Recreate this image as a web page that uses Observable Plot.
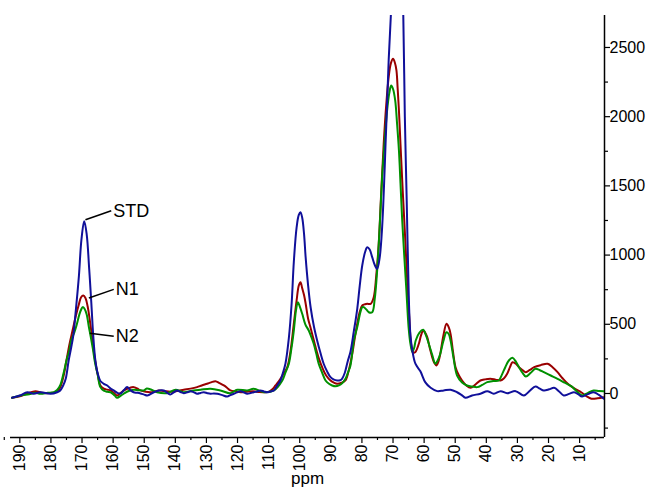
<!DOCTYPE html>
<html>
<head>
<meta charset="utf-8">
<script src="https://cdn.jsdelivr.net/npm/d3@7"></script>
<script src="https://cdn.jsdelivr.net/npm/@observablehq/plot@0.6"></script>
<style>
  html, body { margin: 0; padding: 0; background: #fff; }
</style>
</head>
<body>
<div id="chart"></div>
<script>
// ppm, intensity
const STD = [
  [192.5,-31],[190,-15],[187.6,9],[185.5,-2],[183.4,9],[180.1,-2],[178,9],[177,22],[176,60],[175.2,110],
  [174.3,238],[173.5,330],[172.8,420],[172,600],[171,850],[170.2,1110],[169.3,1245],[168.5,1150],[167.7,900],
  [167,650],[166.4,420],[165.7,238],[164.9,140],[164.1,90],[163,70],[161.9,58],[160.8,35],[159.8,22],[158.7,5],
  [157.6,0],[156.5,25],[155.5,46],[154.5,25],[153.4,9],[152.3,5],[151.2,0],[150,-8],[149,-14],[146.9,9],
  [145.3,22],[143.7,22],[142.6,5],[141.6,-7],[140.5,8],[139.4,22],[138.3,10],[137.3,2],[136.2,8],[135.1,17],
  [134,8],[133,-2],[131.9,4],[130.8,9],[129.7,2],[128.7,-2],[127.6,0],[126.5,-2],[124.9,-12],[123.3,-22],
  [122.3,-12],[121.2,-2],[120.1,8],[119,17],[118,8],[116.9,-2],[115.8,3],[114.8,9],[113.7,15],[112.6,22],
  [111.5,15],[110.5,9],[109.4,15],[108.3,22],[107.2,60],[106.2,94],[105.4,150],[104.6,215],[103.5,400],
  [102.6,650],[101.9,950],[101,1200],[100.3,1290],[99.75,1310],[99.2,1270],[98.6,1150],[98.1,985],[97.3,780],
  [96.5,623],[95.4,480],[94.4,383],[93.3,290],[92.3,215],[91.2,160],[90.1,118],[89,100],[88,94],[87,96],
  [86.4,106],[85.5,150],[84.6,230],[83.7,300],[82.6,450],[81.5,612],[80.7,780],[79.9,925],[79,1020],
  [78.3,1057],[77.5,1040],[76.7,985],[75.9,930],[75.1,901],[74.3,980],[73.5,1202],[72.9,1500],[72.4,1804],
  [71.9,2100],[71.4,2406],[70.7,2731],[70,3100],[69,3500],[68.5,3550],[68,3450],[67.3,3150],[66.7,2731],
  [66.2,2000],[65.6,1395],[64.9,672],[64.4,420],[63.8,311],[62.8,215],[61.2,160],[59.6,80],[57.9,41],
  [55.8,17],[53.7,22],[51.5,27],[49.4,9],[48,-10],[46.7,-31],[44.6,-14],[41.9,-2],[39.7,17],[37.6,-2],
  [35.4,17],[33.3,2],[30.6,17],[27.9,-14],[26,20],[24.2,51],[22.8,35],[21.5,22],[19.8,30],[18.2,41],
  [16.6,15],[15.1,-14],[13.4,-3],[11.8,9],[10.5,-5],[9.2,-22],[7.3,-5],[5.5,9],[3.8,-10],[2.2,-38]
];
const N1 = [
  [192.5,-31],[190,-20],[187.6,0],[185,17],[183,5],[181.2,2],[179.5,5],[178,15],[177,45],[176,120],[175,240],
  [174,360],[173,460],[172,560],[171,645],[170.3,695],[169.6,708],[168.9,690],[168.2,630],[167.5,530],
  [166.8,410],[166.2,300],[165.5,200],[164.8,120],[164.1,58],[163,35],[161.9,28],[160.8,22],[159.8,5],
  [158.7,-14],[157.5,5],[156.5,22],[155.5,34],[154.5,42],[153.4,46],[152.3,36],[151.2,22],[149.5,12],[148,9],
  [146.5,15],[145.3,22],[143.7,18],[141.6,12],[139.4,18],[137.3,27],[135.1,35],[133,46],[131.5,58],[129.8,70],
  [128.5,80],[127.1,89],[125.8,75],[124.4,58],[123.3,40],[122.3,22],[120.5,14],[119,9],[117,13],[115,16],
  [113,10],[111.5,9],[110,12],[108.8,30],[107.8,58],[107,80],[106.2,106],[105,150],[104,190],[103,300],
  [101.9,504],[101,672],[100.3,780],[99.75,804],[99.2,760],[98.6,710],[98.1,650],[97.3,540],[96.7,490],
  [96,430],[94.9,335],[93.8,250],[92.8,190],[91.5,130],[90.1,94],[89,78],[88,70],[86.5,78],[85.3,94],
  [84.2,170],[83.1,287],[82.3,400],[81.5,504],[80.7,590],[79.9,636],[79,645],[78.3,648],[77.2,648],
  [76.2,696],[75.4,850],[74.6,1082],[73.8,1450],[73,1804],[72.2,2080],[71.4,2285],[70.7,2385],[70,2418],
  [69.4,2390],[68.9,2334],[68.5,2200],[68.1,2045],[67.6,1800],[67.1,1563],[66.5,1300],[66,1082],[65.4,800],
  [64.8,560],[64.2,360],[63.5,295],[62.8,300],[61.7,359],[61,420],[60.3,455],[59.7,440],[59,407],[58.2,330],
  [57.4,262],[56.7,220],[56,202],[55.4,230],[54.8,287],[53.8,420],[52.8,504],[52.1,480],[51.5,431],[50.7,300],
  [49.9,190],[48.8,130],[47.8,94],[46.5,60],[45.1,41],[43.5,65],[41.9,94],[40.3,102],[38.7,106],[37,100],
  [35.4,94],[34.3,110],[33.3,142],[32.4,190],[31.6,226],[30.5,215],[29.5,190],[28.4,170],[27.3,154],[26,170],
  [24.6,190],[22.5,205],[20.3,215],[18.7,190],[17.1,154],[15.5,110],[13.8,70],[11.6,35],[9.5,9],[7.8,-20],
  [6.2,-38],[4.2,-35],[2.2,-27]
];
const N2 = [
  [192.5,-31],[189.8,-14],[187,-5],[185,5],[183.4,-2],[181,5],[179,10],[178,25],[177,60],[176,140],[175,238],
  [174,320],[173.5,383],[172.5,440],[171.8,490],[170.8,575],[170.2,610],[169.8,624],[169.2,612],[168.5,570],
  [167.8,480],[167.2,410],[166.5,320],[165.8,220],[165,140],[164.1,46],[163,20],[161.9,12],[160.8,9],
  [159.5,-15],[158.7,-31],[157.5,-15],[156.6,-2],[155,18],[153.4,27],[151.8,24],[150.1,22],[149.2,36],
  [147.5,25],[145.9,9],[142.7,2],[139.9,27],[137.4,9],[134.1,22],[131.9,27],[128.7,34],[125.5,22],[122.3,2],
  [120.1,27],[116.9,22],[114.8,34],[111.5,9],[108.3,22],[105.6,94],[104.6,150],[103.5,215],[102.7,320],
  [101.9,455],[101.2,600],[100.6,660],[100,630],[99.2,576],[98.2,500],[97.1,455],[96.3,410],[95.5,359],
  [94.7,290],[93.9,215],[92.8,150],[91.7,94],[90.6,70],[89.6,58],[88.5,52],[87.4,58],[86.3,75],[85.3,106],
  [84.5,150],[83.7,200],[82.6,383],[81.5,480],[80.5,587],[79.9,624],[79.4,624],[78.3,600],[77.8,587],
  [76.7,587],[75.9,680],[75.1,889],[74.3,1200],[73.5,1563],[72.7,1820],[71.9,2045],[71.2,2170],[70.6,2225],
  [70,2200],[69.3,2117],[68.7,1950],[68.1,1756],[67.6,1520],[67.1,1274],[66.4,1000],[65.7,744],[65,480],
  [64.4,359],[63.8,300],[63.2,330],[62.7,383],[61.5,440],[60.3,460],[59.4,420],[58.5,359],[57.4,280],
  [56.4,215],[55.6,240],[54.8,287],[53.8,380],[52.8,443],[52.1,430],[51.5,383],[50.5,250],[49.4,130],
  [47.8,80],[46.2,58],[44.5,50],[42.9,46],[41.3,62],[39.7,82],[37.8,90],[36,94],[34.9,140],[33.9,190],
  [32.7,240],[31.6,258],[30.5,230],[29.5,190],[28.4,150],[27.3,123],[25.7,150],[24.2,178],[22.8,168],
  [21.5,154],[19.3,130],[17.1,106],[14.8,78],[12.6,51],[10.9,15],[9.2,-14],[7.3,5],[5.5,22],[3.8,18],[2.2,17]
];

const seriesNames = ["STD", "N1", "N2"];
const seriesColors = ["#10109a", "#990000", "#009000"];

const xMajor = d3.range(10, 191, 10);
const xMinor = d3.range(5, 196, 10);
const yMajor = [0, 500, 1000, 1500, 2000, 2500];
const yMinor = [-250, 250, 750, 1250, 1750, 2250];

// label annotations
const labelText = ["STD", "N1", "N2"];
const labelFrom = [[168.9, 1255], [167.8, 690], [167.5, 436]];
const labelTo = [[160.6, 1320], [159.8, 752], [159.8, 414]];

const xDomain = [193, 2];
const yDomain = [-318, 2731];

const table = (arr, name) => arr.map(([ppm, v]) => ({ppm, v, name}));
const data = [
  ...table(N1, "N1"),
  ...table(N2, "N2"),
  ...table(STD, "STD")
];
const links = labelText.map((t, i) => ({
  t, x1: labelFrom[i][0], y1: labelFrom[i][1], x2: labelTo[i][0], y2: labelTo[i][1]
}));

const chart = Plot.plot({
  width: 655,
  height: 490,
  marginLeft: 10,
  marginRight: 51,
  marginTop: 15,
  marginBottom: 53,
  style: {fontFamily: "'Liberation Sans', Arial, sans-serif", fontSize: "16px", background: "white", color: "black"},
  x: {domain: xDomain},
  y: {domain: yDomain},
  color: {domain: seriesNames, range: seriesColors},
  marks: [
    Plot.ruleY([yDomain[0]], {stroke: "black", strokeWidth: 1.5}),
    Plot.ruleX([xDomain[1]], {stroke: "black", strokeWidth: 1.5}),
    Plot.axisX(xMajor, {tickSize: 6, tickPadding: 1, tickRotate: -90, tickFormat: d => String(d), label: null, strokeWidth: 1.2, fontSize: 16}),
    Plot.axisX(xMinor, {tickSize: 3, tickFormat: () => "", label: null, strokeWidth: 1.2}),
    Plot.axisY(yMajor, {anchor: "right", tickSize: 5, tickPadding: 0, tickFormat: d => String(d), label: null, strokeWidth: 1.2, fontSize: 16}),
    Plot.axisY(yMinor, {anchor: "right", tickSize: 3, tickFormat: () => "", label: null, strokeWidth: 1.2}),
    Plot.line(data, {x: "ppm", y: "v", z: "name", stroke: "name", strokeWidth: 2, curve: "catmull-rom", clip: true}),
    Plot.link(links, {x1: "x1", y1: "y1", x2: "x2", y2: "y2", stroke: "black", strokeWidth: 1.5}),
    Plot.text(links, {x: "x2", y: "y2", text: "t", textAnchor: "start", dx: 2, fill: "black", fontSize: 18}),
    Plot.text(["ppm"], {frameAnchor: "bottom", dy: 46, fill: "black", fontSize: 17})
  ]
});
document.getElementById("chart").appendChild(chart);
</script>
</body>
</html>
